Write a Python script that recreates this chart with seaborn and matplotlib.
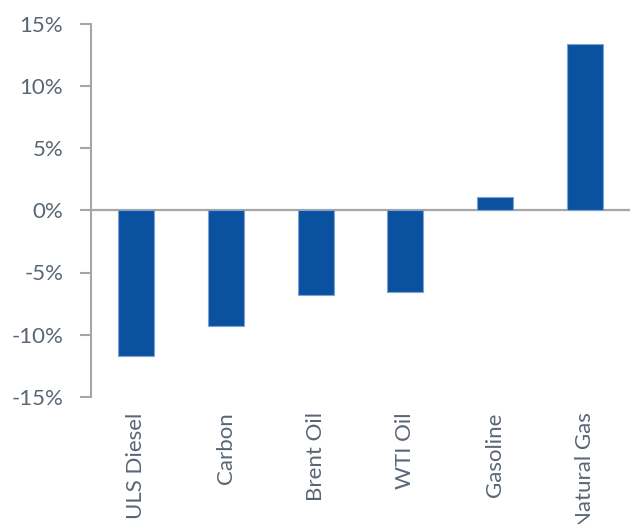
"""
Variation des prix des matieres premieres (bar chart, seaborn).
"""
import pandas as pd
import matplotlib
matplotlib.use("Agg")
import matplotlib.pyplot as plt
import seaborn as sns
from matplotlib.ticker import FuncFormatter

# Donnees (en %)
commodities = ["ULS Diesel", "Carbon", "Brent Oil", "WTI Oil", "Gasoline", "Natural Gas"]
changes = [-11.7, -9.3, -6.8, -6.6, 1.1, 13.35]
y_ticks = [-15, -10, -5, 0, 5, 10, 15]

df = pd.DataFrame({"commodity": commodities, "change": changes})

sns.set_style("white")
plt.rcParams["font.family"] = ["Lato", "DejaVu Sans"]

text_color = "#5a6675"
axis_color = "#a6a6a6"
bar_color = "#0a52a0"

fig = plt.figure(figsize=(6.3, 5.24), dpi=100)
ax = fig.add_axes([91 / 630, 1 - 397 / 524, 539 / 630, (397 - 23.5) / 524])

sns.barplot(data=df, x="commodity", y="change", color=bar_color,
            width=0.4, edgecolor="#7fa3d0", linewidth=0.8, saturation=1, ax=ax)

ax.axhline(0, color=axis_color, lw=1.6, zorder=0)

ax.set_ylim(-15, 15)
ax.set_xlim(-0.5, 5.5)
ax.set_yticks(y_ticks)
ax.yaxis.set_major_formatter(FuncFormatter(lambda v, _: f"{v:.0f}%"))
ax.tick_params(axis="y", length=8, width=1.5, color=axis_color,
               labelsize=16, labelcolor=text_color, pad=12, left=True)
ax.tick_params(axis="x", length=0, labelsize=16, labelcolor=text_color, pad=11)
for lbl in ax.get_xticklabels():
    lbl.set_rotation(90)
    lbl.set_va("top")
    lbl.set_ha("center")

ax.set_xlabel("")
ax.set_ylabel("")
for side in ["top", "right", "bottom"]:
    ax.spines[side].set_visible(False)
ax.spines["left"].set_color(axis_color)
ax.spines["left"].set_linewidth(1.5)

fig.savefig("out.png", dpi=100)
plt.close()
